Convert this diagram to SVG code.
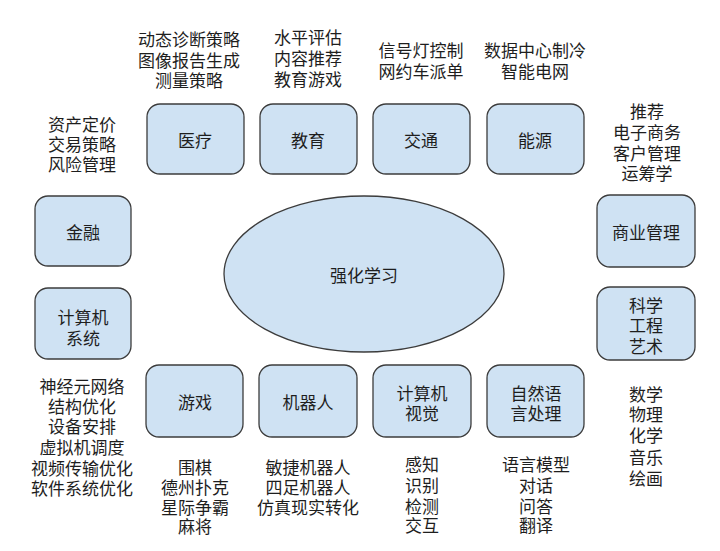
<svg xmlns="http://www.w3.org/2000/svg" width="720" height="551" viewBox="0 0 720 551">
<style>
.box{fill:#cfe2f3;stroke:#3c3c3c;stroke-width:1.3}
text{font-family:"Noto Sans CJK SC","Noto Sans",sans-serif;font-size:17px;fill:#1e1e1e;text-anchor:middle;dominant-baseline:central}
</style>
<rect width="720" height="551" fill="#ffffff"/>
<g id="connectors"></g>
<g id="rl">
<ellipse class="box" cx="364" cy="274" rx="140" ry="78"/>
<text x="364" y="274">强化学习</text>
</g>
<g id="medical">
<rect class="box" x="147" y="104" width="97" height="70" rx="13"/>
<text x="195" y="139">医疗</text>
<text x="189" y="38">动态诊断策略</text>
<text x="189" y="59">图像报告生成</text>
<text x="189" y="79">测量策略</text>
</g>
<g id="education">
<rect class="box" x="260" y="104" width="97" height="70" rx="13"/>
<text x="308" y="139">教育</text>
<text x="308" y="36">水平评估</text>
<text x="308" y="57">内容推荐</text>
<text x="308" y="78">教育游戏</text>
</g>
<g id="transport">
<rect class="box" x="373" y="104" width="97" height="70" rx="13"/>
<text x="421" y="139">交通</text>
<text x="421" y="49">信号灯控制</text>
<text x="421" y="70">网约车派单</text>
</g>
<g id="energy">
<rect class="box" x="487" y="104" width="97" height="70" rx="13"/>
<text x="535" y="139">能源</text>
<text x="535" y="49">数据中心制冷</text>
<text x="535" y="70">智能电网</text>
</g>
<g id="finance">
<rect class="box" x="35" y="196" width="96" height="70" rx="13"/>
<text x="83" y="231">金融</text>
<text x="82" y="123">资产定价</text>
<text x="82" y="143">交易策略</text>
<text x="82" y="163">风险管理</text>
</g>
<g id="computer-systems">
<rect class="box" x="35" y="288" width="96" height="71" rx="13"/>
<text x="83" y="316">计算机</text>
<text x="83" y="337">系统</text>
<text x="82" y="385">神经元网络</text>
<text x="82" y="405">结构优化</text>
<text x="82" y="425">设备安排</text>
<text x="82" y="446">虚拟机调度</text>
<text x="82" y="467">视频传输优化</text>
<text x="82" y="487">软件系统优化</text>
</g>
<g id="business">
<rect class="box" x="597" y="195" width="98" height="72" rx="13"/>
<text x="646" y="231">商业管理</text>
<text x="647" y="110">推荐</text>
<text x="647" y="131">电子商务</text>
<text x="647" y="152">客户管理</text>
<text x="647" y="172">运筹学</text>
</g>
<g id="science">
<rect class="box" x="597" y="287" width="98" height="73" rx="13"/>
<text x="646" y="304">科学</text>
<text x="646" y="324">工程</text>
<text x="646" y="345">艺术</text>
<text x="646" y="393">数学</text>
<text x="646" y="413">物理</text>
<text x="646" y="434">化学</text>
<text x="646" y="456">音乐</text>
<text x="646" y="477">绘画</text>
</g>
<g id="games">
<rect class="box" x="146" y="365" width="97" height="72" rx="13"/>
<text x="195" y="401">游戏</text>
<text x="195" y="466">围棋</text>
<text x="195" y="486">德州扑克</text>
<text x="195" y="506">星际争霸</text>
<text x="195" y="525">麻将</text>
</g>
<g id="robotics">
<rect class="box" x="259" y="365" width="98" height="72" rx="13"/>
<text x="308" y="401">机器人</text>
<text x="308" y="466">敏捷机器人</text>
<text x="308" y="486">四足机器人</text>
<text x="308" y="506">仿真现实转化</text>
</g>
<g id="vision">
<rect class="box" x="373" y="365" width="98" height="72" rx="13"/>
<text x="422" y="392">计算机</text>
<text x="422" y="412">视觉</text>
<text x="422" y="463">感知</text>
<text x="422" y="484">识别</text>
<text x="422" y="505">检测</text>
<text x="422" y="524">交互</text>
</g>
<g id="nlp">
<rect class="box" x="487" y="365" width="97" height="72" rx="13"/>
<text x="536" y="392">自然语</text>
<text x="536" y="412">言处理</text>
<text x="536" y="463">语言模型</text>
<text x="536" y="484">对话</text>
<text x="536" y="505">问答</text>
<text x="536" y="524">翻译</text>
</g>
</svg>
